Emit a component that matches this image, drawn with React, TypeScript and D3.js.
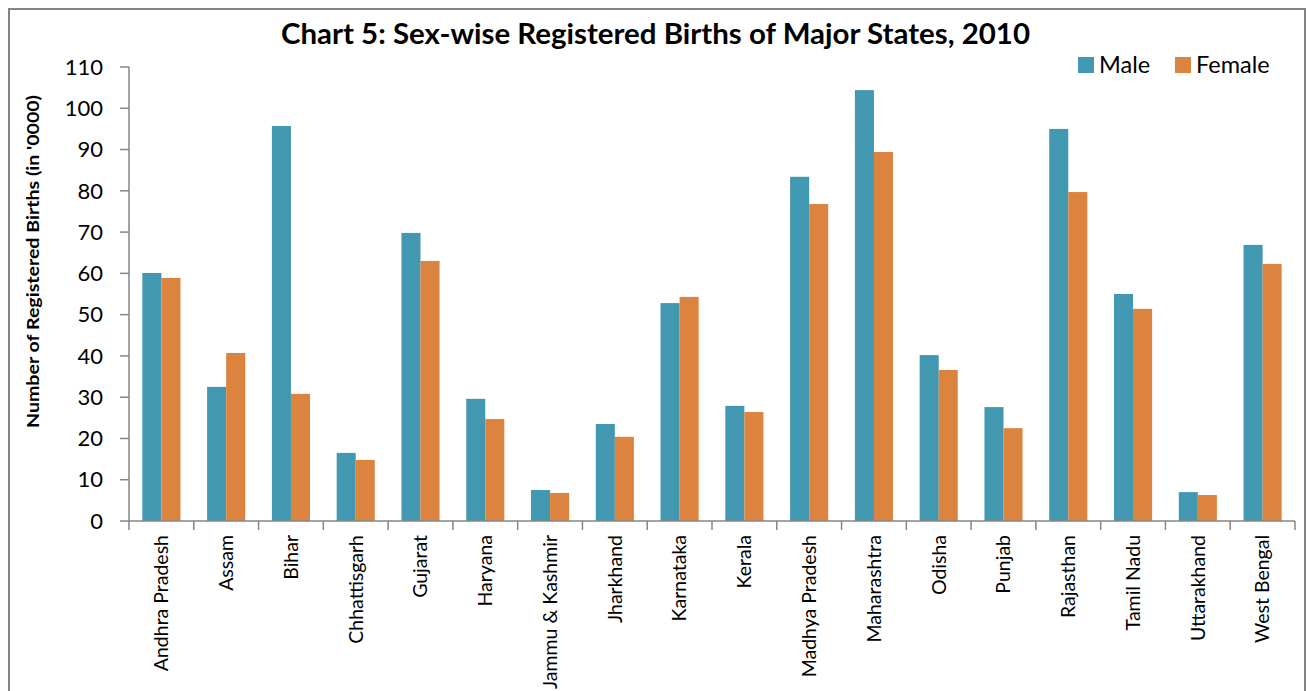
import { useEffect, useRef } from 'react'
import * as d3 from 'd3'

const states = [
  'Andhra Pradesh', 'Assam', 'Bihar', 'Chhattisgarh', 'Gujarat', 'Haryana',
  'Jammu & Kashmir', 'Jharkhand', 'Karnataka', 'Kerala', 'Madhya Pradesh',
  'Maharashtra', 'Odisha', 'Punjab', 'Rajasthan', 'Tamil Nadu', 'Uttarakhand',
  'West Bengal',
]
const male = [60.1, 32.5, 95.7, 16.5, 69.8, 29.6, 7.5, 23.5, 52.8, 27.9, 83.4, 104.4, 40.2, 27.6, 95.0, 55.0, 7.0, 66.9]
const female = [58.9, 40.7, 30.8, 14.8, 63.0, 24.7, 6.8, 20.4, 54.3, 26.4, 76.8, 89.4, 36.6, 22.5, 79.7, 51.4, 6.3, 62.3]
const yTicks = [0, 10, 20, 30, 40, 50, 60, 70, 80, 90, 100, 110]
const seriesNames = ['Male', 'Female']
const seriesColors = ['#4298b0', '#dc843f']

const W = 1307
const H = 691
const FONT = 'Lato, "Open Sans", sans-serif'

export default function App() {
  const ref = useRef<SVGSVGElement>(null)

  useEffect(() => {
    const svg = d3.select(ref.current)
    svg.selectAll('*').remove()

    const left = 129, right = 1295, top = 67, bottom = 521
    const axisColor = '#868686'

    // chart frame
    svg.append('rect')
      .attr('x', 9).attr('y', 9).attr('width', 1296).attr('height', 700)
      .attr('fill', '#fff').attr('stroke', '#848484').attr('stroke-width', 2)

    svg.append('text')
      .attr('x', 281).attr('y', 44)
      .attr('textLength', 749).attr('lengthAdjust', 'spacingAndGlyphs')
      .style('font-family', FONT).style('font-weight', 700).style('font-size', '28px')
      .text('Chart 5: Sex-wise Registered Births of Major States, 2010')

    const x0 = d3.scaleBand().domain(states).range([left, right]).padding(0)
    const x1 = d3.scaleBand().domain(seriesNames).range([0, x0.bandwidth()])
      .paddingInner(0).paddingOuter(0.7)
    const y = d3.scaleLinear().domain([0, 110]).range([bottom, top])

    // y axis
    const ya = svg.append('g')
    ya.append('line').attr('x1', left).attr('x2', left).attr('y1', top).attr('y2', bottom)
      .attr('stroke', axisColor).attr('stroke-width', 1.5)
    ya.selectAll('line.t').data(yTicks).enter().append('line')
      .attr('class', 't')
      .attr('x1', left - 9).attr('x2', left)
      .attr('y1', d => y(d)).attr('y2', d => y(d))
      .attr('stroke', axisColor).attr('stroke-width', 1.5)
    ya.selectAll('text').data(yTicks).enter().append('text')
      .attr('x', 103).attr('y', d => y(d))
      .attr('dy', '0.35em').attr('text-anchor', 'end')
      .style('font-family', FONT).style('font-size', '22px').attr('fill', '#000')
      .text(d => d)

    svg.append('text')
      .attr('transform', `translate(39,428) rotate(-90)`)
      .attr('textLength', 333).attr('lengthAdjust', 'spacingAndGlyphs')
      .style('font-family', FONT).style('font-weight', 700).style('font-size', '17px')
      .text("Number of Registered Births (in '0000)")

    // bars
    const groups = svg.append('g').selectAll('g').data(states).enter().append('g')
      .attr('transform', d => `translate(${x0(d)},0)`)
    groups.selectAll('rect')
      .data((d, i) => [
        { key: 'Male', value: male[i], c: seriesColors[0] },
        { key: 'Female', value: female[i], c: seriesColors[1] },
      ])
      .enter().append('rect')
      .attr('x', d => x1(d.key) as number)
      .attr('width', x1.bandwidth())
      .attr('y', d => y(d.value))
      .attr('height', d => bottom - y(d.value))
      .attr('fill', d => d.c)

    // x axis
    const xa = svg.append('g')
    xa.append('line').attr('x1', left).attr('x2', right).attr('y1', bottom).attr('y2', bottom)
      .attr('stroke', axisColor).attr('stroke-width', 1.5)
    const bounds = states.map(s => x0(s) as number).concat([right])
    xa.selectAll('line.t').data(bounds).enter().append('line')
      .attr('class', 't')
      .attr('x1', d => d).attr('x2', d => d)
      .attr('y1', bottom).attr('y2', bottom + 9)
      .attr('stroke', axisColor).attr('stroke-width', 1.5)
    xa.selectAll('text').data(states).enter().append('text')
      .attr('transform', d => `translate(${(x0(d) as number) + x0.bandwidth() / 2},535) rotate(-90)`)
      .attr('text-anchor', 'end').attr('dy', '0.35em')
      .style('font-family', FONT).style('font-size', '19.5px')
      .text(d => d)

    // legend
    const lg = svg.append('g')
    const lx = [1078, 1175]
    seriesNames.forEach((n, i) => {
      lg.append('rect').attr('x', lx[i]).attr('y', 57).attr('width', 16).attr('height', 16)
        .attr('fill', seriesColors[i])
      lg.append('text').attr('x', lx[i] + 21).attr('y', 73)
        .style('font-family', FONT).style('font-size', '23.5px')
        .text(n)
    })
  }, [])

  return (
    <svg ref={ref} width={W} height={H}
      style={{ position: 'absolute', left: 0, top: 0, display: 'block' }} />
  )
}
